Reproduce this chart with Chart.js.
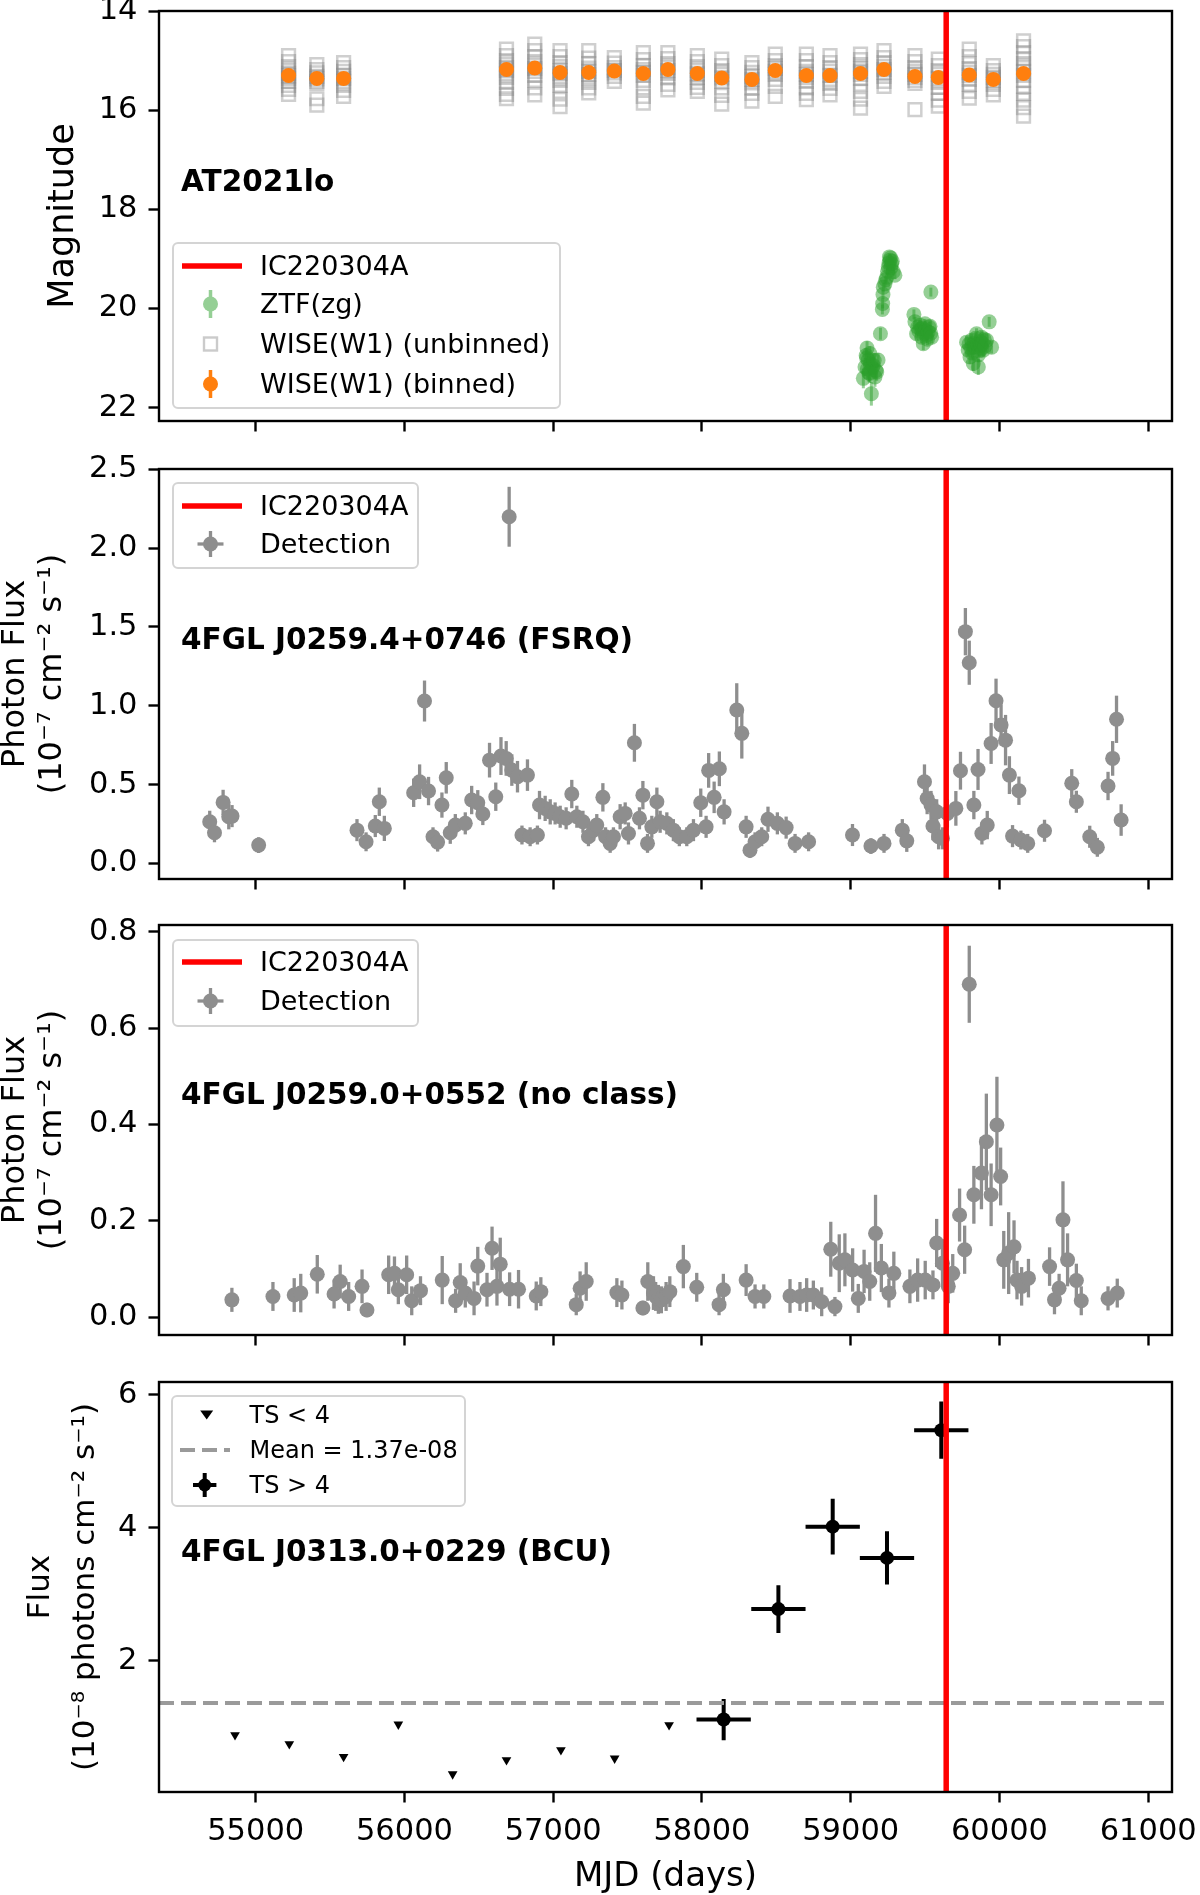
<!DOCTYPE html>
<html>
<head>
<meta charset="utf-8">
<title>AT2021lo / IC220304A light curves</title>
<script src="https://cdn.jsdelivr.net/npm/chart.js@4.4.1/dist/chart.umd.min.js"></script>
<style>
  body { margin: 0; background: #fff; width: 1200px; height: 1895px; position: relative; overflow: hidden; font-family: "DejaVu Sans", sans-serif; }
  canvas { position: absolute; left: 0; }
  .legend { position: absolute; border: 2px solid #d4d4d4; border-radius: 6px; background: rgba(255,255,255,0.8); box-sizing: border-box; }
  .row { position: absolute; left: 0; width: 100%; height: 0; }
  .row svg { position: absolute; left: 0; top: -20px; width: 80px; height: 40px; overflow: visible; }
  .row span { position: absolute; top: 0; transform: translateY(-50%); line-height: 1.2; white-space: nowrap; color: #000; }
  .note { position: absolute; left: 181px; font-weight: bold; font-size: 29.5px; line-height: 1.2; transform: translateY(-50%); white-space: nowrap; color: #000; }
</style>
</head>
<body>
<canvas id="c1" width="1200" height="444" style="top:-9px"></canvas>
<canvas id="c2" width="1200" height="444" style="top:449px"></canvas>
<canvas id="c3" width="1200" height="444" style="top:905px"></canvas>
<canvas id="c4" width="1200" height="533" style="top:1362px"></canvas>

<!-- panel 1 legend + label -->
<div class="legend" style="left:172px;top:242px;width:389px;height:167px;font-size:27px">
  <div class="row" style="top:22px"><svg><line x1="8" y1="20" x2="68" y2="20" stroke="#ff0000" stroke-width="5.5"/></svg><span style="left:86px">IC220304A</span></div>
  <div class="row" style="top:60px"><svg><g opacity="0.5"><line x1="36.5" y1="6" x2="36.5" y2="34" stroke="#2ca02c" stroke-width="3.5"/><circle cx="36.5" cy="20" r="7.5" fill="#2ca02c"/></g></svg><span style="left:86px">ZTF(zg)</span></div>
  <div class="row" style="top:100px"><svg><rect x="30" y="13.5" width="13" height="13" fill="none" stroke="#cbcbcb" stroke-width="2.4"/></svg><span style="left:86px">WISE(W1) (unbinned)</span></div>
  <div class="row" style="top:140px"><svg><line x1="36.5" y1="6" x2="36.5" y2="34" stroke="#ff7f0e" stroke-width="3.5"/><circle cx="36.5" cy="20" r="7.5" fill="#ff7f0e"/></svg><span style="left:86px">WISE(W1) (binned)</span></div>
</div>
<div class="note" style="top:181.7px">AT2021lo</div>

<!-- panel 2 legend + label -->
<div class="legend" style="left:172px;top:482px;width:247px;height:87px;font-size:27px">
  <div class="row" style="top:21.5px"><svg><line x1="8" y1="20" x2="68" y2="20" stroke="#ff0000" stroke-width="5.5"/></svg><span style="left:86px">IC220304A</span></div>
  <div class="row" style="top:60px"><svg><line x1="36.5" y1="7" x2="36.5" y2="33" stroke="#8e8e8e" stroke-width="3.3"/><line x1="23.5" y1="20" x2="49.5" y2="20" stroke="#8e8e8e" stroke-width="3.3"/><circle cx="36.5" cy="20" r="7.5" fill="#8e8e8e"/></svg><span style="left:86px">Detection</span></div>
</div>
<div class="note" style="top:640px">4FGL J0259.4+0746 (FSRQ)</div>

<!-- panel 3 legend + label -->
<div class="legend" style="left:172px;top:939px;width:247px;height:88px;font-size:27px">
  <div class="row" style="top:21px"><svg><line x1="8" y1="20" x2="68" y2="20" stroke="#ff0000" stroke-width="5.5"/></svg><span style="left:86px">IC220304A</span></div>
  <div class="row" style="top:60px"><svg><line x1="36.5" y1="7" x2="36.5" y2="33" stroke="#8e8e8e" stroke-width="3.3"/><line x1="23.5" y1="20" x2="49.5" y2="20" stroke="#8e8e8e" stroke-width="3.3"/><circle cx="36.5" cy="20" r="7.5" fill="#8e8e8e"/></svg><span style="left:86px">Detection</span></div>
</div>
<div class="note" style="top:1095px">4FGL J0259.0+0552 (no class)</div>

<!-- panel 4 legend + label -->
<div class="legend" style="left:171px;top:1395px;width:295px;height:112px;font-size:24px">
  <div class="row" style="top:18px"><svg><path d="M27.2,15.5 L40.2,15.5 L33.7,24.5 Z" fill="#000"/></svg><span style="left:76.5px">TS &lt; 4</span></div>
  <div class="row" style="top:53px"><svg><line x1="7" y1="20" x2="57" y2="20" stroke="#9a9a9a" stroke-width="4" stroke-dasharray="15 7"/></svg><span style="left:76.5px">Mean = 1.37e-08</span></div>
  <div class="row" style="top:88px"><svg><line x1="31.7" y1="8" x2="31.7" y2="32" stroke="#000" stroke-width="4"/><line x1="20" y1="20" x2="43.4" y2="20" stroke="#000" stroke-width="4"/><circle cx="31.7" cy="20" r="6.5" fill="#000"/></svg><span style="left:76.5px">TS &gt; 4</span></div>
</div>
<div class="note" style="top:1551.7px">4FGL J0313.0+0229 (BCU)</div>

<script>
// ---- shared axis values ----
const mjdTicks = [55000, 56000, 57000, 58000, 59000, 60000, 61000];
const mjdRange = [54350, 61160];
const icMJD = 59642;   // IC220304A arrival

// ---- panel 1: optical / IR ----
const magTicks = [14, 16, 18, 20, 22];
const wiseEpochs = [55221, 55411, 55591, 56686, 56876, 57046, 57239, 57411, 57606, 57771, 57969, 58133,
  58336, 58493, 58702, 58861, 59066, 59224, 59432, 59589, 59797, 59959, 60162];
const wiseBinnedMag = [15.30, 15.36, 15.36, 15.18, 15.15, 15.24, 15.24, 15.21, 15.26, 15.18, 15.26, 15.35,
  15.38, 15.20, 15.30, 15.30, 15.26, 15.18, 15.32, 15.34, 15.29, 15.38, 15.26];
const wiseBinnedErr = [0.04, 0.04, 0.04, 0.05, 0.05, 0.05, 0.04, 0.03, 0.05, 0.04, 0.04, 0.05,
  0.04, 0.05, 0.05, 0.04, 0.05, 0.04, 0.05, 0.05, 0.05, 0.04, 0.06];
const wiseUnbinned = [
  [14.90, 15.02, 15.12, 15.20, 15.26, 15.31, 15.36, 15.42, 15.50, 15.58, 15.68],
  [15.08, 15.18, 15.25, 15.32, 15.37, 15.42, 15.46, 15.77, 15.90],
  [15.04, 15.14, 15.22, 15.30, 15.36, 15.42, 15.50, 15.60, 15.72],
  [14.77, 14.90, 15.00, 15.08, 15.14, 15.20, 15.26, 15.34, 15.44, 15.56, 15.68, 15.77],
  [14.67, 14.80, 14.92, 15.02, 15.10, 15.16, 15.22, 15.30, 15.40, 15.55, 15.69],
  [14.80, 14.92, 15.04, 15.12, 15.20, 15.26, 15.32, 15.40, 15.50, 15.62, 15.78, 15.93],
  [14.80, 14.95, 15.06, 15.15, 15.22, 15.28, 15.35, 15.44, 15.55, 15.65],
  [14.94, 15.05, 15.14, 15.20, 15.25, 15.32, 15.42],
  [14.84, 14.98, 15.10, 15.18, 15.24, 15.30, 15.40, 15.55, 15.72, 15.86],
  [14.84, 14.96, 15.06, 15.14, 15.20, 15.26, 15.35, 15.48, 15.59],
  [14.90, 15.02, 15.12, 15.20, 15.27, 15.34, 15.44, 15.54, 15.62],
  [14.97, 15.10, 15.20, 15.28, 15.35, 15.42, 15.55, 15.70, 15.88],
  [15.04, 15.14, 15.24, 15.32, 15.38, 15.45, 15.55, 15.66, 15.82],
  [14.87, 15.00, 15.10, 15.16, 15.22, 15.28, 15.38, 15.52, 15.72],
  [14.87, 15.00, 15.12, 15.22, 15.28, 15.34, 15.42, 15.55, 15.66, 15.79],
  [14.90, 15.04, 15.14, 15.22, 15.30, 15.38, 15.46, 15.56, 15.69],
  [14.87, 14.98, 15.08, 15.16, 15.22, 15.28, 15.36, 15.48, 15.62, 15.78, 15.96],
  [14.80, 14.94, 15.04, 15.12, 15.18, 15.24, 15.32, 15.42, 15.52],
  [14.90, 15.02, 15.14, 15.22, 15.28, 15.34, 15.40, 15.46, 15.99],
  [14.97, 15.10, 15.20, 15.28, 15.36, 15.44, 15.54, 15.66, 15.80, 15.92],
  [14.77, 14.92, 15.06, 15.16, 15.24, 15.30, 15.38, 15.48, 15.62, 15.76],
  [15.10, 15.20, 15.28, 15.34, 15.40, 15.48, 15.58, 15.69],
  [14.60, 14.72, 14.84, 14.96, 15.06, 15.14, 15.22, 15.30, 15.40, 15.52, 15.66, 15.80, 15.95, 16.12]
];
const ztfMJD = [59085, 59096, 59104, 59107, 59110, 59112, 59118, 59122, 59128, 59128, 59133, 59139, 59145,
  59152, 59158, 59163, 59170, 59175, 59184, 59200, 59213, 59215, 59217, 59219, 59230, 59236, 59242, 59248,
  59253, 59258, 59260, 59264, 59268, 59270, 59275, 59280, 59286, 59297, 59425, 59432, 59443, 59450, 59458,
  59466, 59472, 59477, 59482, 59488, 59494, 59499, 59505, 59510, 59516, 59521, 59527, 59533, 59538, 59539,
  59544, 59779, 59790, 59796, 59802, 59808, 59813, 59818, 59824, 59830, 59835, 59840, 59846, 59852, 59858,
  59858, 59864, 59870, 59875, 59880, 59880, 59886, 59891, 59897, 59903, 59914, 59931, 59947];
const ztfMag = [21.41, 21.18, 20.95, 21.00, 20.80, 21.22, 21.04, 21.30, 20.91, 21.31, 21.12, 21.72, 21.20,
  21.15, 21.05, 21.38, 21.25, 21.28, 21.04, 20.51, 20.02, 19.90, 19.72, 19.57, 19.50, 19.42, 19.37, 19.25,
  19.16, 19.08, 18.96, 19.03, 18.98, 19.18, 19.10, 19.05, 19.26, 19.33, 20.12, 20.27, 20.51, 20.38, 20.45,
  20.34, 20.42, 20.58, 20.40, 20.71, 20.50, 20.31, 20.44, 20.54, 20.62, 20.47, 20.38, 20.36, 20.50, 19.67,
  20.58, 20.68, 20.84, 20.72, 20.98, 20.80, 20.64, 20.90, 21.11, 20.70, 20.78, 20.60, 20.51, 20.72, 20.94,
  21.18, 20.85, 20.66, 20.75, 20.58, 20.81, 20.70, 20.84, 20.62, 20.76, 20.64, 20.27, 20.78];
const ztfErr = [0.20, 0.18, 0.15, 0.16, 0.14, 0.20, 0.16, 0.18, 0.15, 0.19, 0.17, 0.24, 0.18,
  0.17, 0.15, 0.20, 0.18, 0.18, 0.14, 0.12, 0.10, 0.10, 0.09, 0.09, 0.08, 0.08, 0.08, 0.08,
  0.07, 0.07, 0.07, 0.07, 0.07, 0.08, 0.07, 0.07, 0.08, 0.08, 0.10, 0.10, 0.12, 0.11, 0.11,
  0.11, 0.11, 0.12, 0.11, 0.13, 0.12, 0.10, 0.11, 0.12, 0.12, 0.11, 0.11, 0.10, 0.11, 0.09,
  0.12, 0.12, 0.13, 0.12, 0.14, 0.13, 0.12, 0.13, 0.15, 0.12, 0.13, 0.12, 0.11, 0.12, 0.14,
  0.16, 0.13, 0.12, 0.12, 0.12, 0.13, 0.12, 0.13, 0.12, 0.12, 0.12, 0.10, 0.13];

// ---- panel 2: 4FGL J0259.4+0746 ----
const fluxTicksA = [0.0, 0.5, 1.0, 1.5, 2.0, 2.5];
const fsrqMJD = [54691, 54723, 54781, 54819, 54841, 55020, 55681, 55742, 55804, 55831, 55865, 56062, 56102,
  56135, 56162, 56192, 56223, 56252, 56281, 56308, 56342, 56409, 56452, 56493, 56527, 56572, 56614, 56649,
  56684, 56704, 56722, 56760, 56790, 56827, 56845, 56894, 56908, 56946, 56980, 57013, 57047, 57087, 57125,
  57159, 57200, 57237, 57271, 57293, 57334, 57352, 57383, 57405, 57450, 57484, 57506, 57546, 57580, 57603,
  57634, 57663, 57697, 57719, 57764, 57808, 57848, 57898, 57943, 57992, 58028, 58045, 58082, 58117, 58149,
  58234, 58268, 58297, 58323, 58357, 58402, 58444, 58507, 58566, 58626, 58717, 59012, 59136, 59224, 59347,
  59377, 59496, 59514, 59540, 59553, 59578, 59591, 59617, 59650, 59707, 59738, 59771, 59797, 59828, 59856,
  59882, 59918, 59944, 59977, 60011, 60041, 60067, 60088, 60131, 60144, 60190, 60303, 60486, 60517, 60607,
  60658, 60730, 60761, 60787, 60818];
const fsrqFlux = [0.264, 0.194, 0.387, 0.296, 0.300, 0.116, 0.211, 0.137, 0.237, 0.391, 0.222, 0.448, 0.518,
  1.030, 0.459, 0.169, 0.135, 0.370, 0.543, 0.194, 0.243, 0.254, 0.402, 0.385, 0.313, 0.655, 0.423, 0.681,
  0.666, 2.199, 0.592, 0.550, 0.180, 0.560, 0.169, 0.180, 0.370, 0.349, 0.327, 0.317, 0.296, 0.286, 0.440,
  0.296, 0.264, 0.169, 0.211, 0.243, 0.419, 0.169, 0.127, 0.169, 0.296, 0.317, 0.190, 0.765, 0.286, 0.433,
  0.127, 0.232, 0.391, 0.264, 0.254, 0.211, 0.169, 0.169, 0.211, 0.385, 0.232, 0.590, 0.419, 0.600, 0.327,
  0.973, 0.825, 0.232, 0.084, 0.137, 0.169, 0.280, 0.254, 0.227, 0.127, 0.137, 0.180, 0.110, 0.127, 0.211,
  0.143, 0.518, 0.412, 0.370, 0.237, 0.327, 0.169, 0.159, 0.317, 0.349, 0.588, 1.470, 1.273, 0.370, 0.596,
  0.190, 0.243, 0.761, 1.032, 0.878, 0.782, 0.560, 0.173, 0.461, 0.148, 0.127, 0.207, 0.508, 0.391, 0.169,
  0.102, 0.491, 0.666, 0.914, 0.275];
const fsrqErr = [0.07, 0.06, 0.08, 0.08, 0.07, 0.05, 0.07, 0.06, 0.07, 0.09, 0.08, 0.09, 0.11,
  0.13, 0.09, 0.06, 0.06, 0.08, 0.10, 0.07, 0.07, 0.07, 0.09, 0.08, 0.07, 0.11, 0.09, 0.12,
  0.11, 0.19, 0.10, 0.10, 0.06, 0.10, 0.06, 0.06, 0.09, 0.08, 0.08, 0.07, 0.07, 0.07, 0.09,
  0.07, 0.07, 0.06, 0.07, 0.07, 0.09, 0.06, 0.06, 0.06, 0.08, 0.07, 0.07, 0.12, 0.07, 0.09,
  0.06, 0.07, 0.09, 0.07, 0.07, 0.07, 0.06, 0.06, 0.07, 0.09, 0.07, 0.11, 0.10, 0.11, 0.08,
  0.17, 0.16, 0.07, 0.05, 0.06, 0.06, 0.08, 0.07, 0.07, 0.06, 0.06, 0.07, 0.05, 0.06, 0.07,
  0.07, 0.11, 0.10, 0.09, 0.09, 0.08, 0.08, 0.07, 0.09, 0.11, 0.12, 0.15, 0.14, 0.09, 0.13,
  0.07, 0.09, 0.13, 0.14, 0.13, 0.16, 0.12, 0.07, 0.09, 0.06, 0.06, 0.07, 0.09, 0.07, 0.07,
  0.06, 0.09, 0.11, 0.15, 0.10];

// ---- panel 3: 4FGL J0259.0+0552 ----
const fluxTicksB = [0.0, 0.2, 0.4, 0.6, 0.8];
const ncMJD = [54840, 55116, 55259, 55303, 55414, 55527, 55568, 55625, 55715, 55748, 55894, 55933, 55959,
  56015, 56049, 56108, 56254, 56344, 56375, 56409, 56468, 56493, 56555, 56589, 56622, 56644, 56707, 56767,
  56886, 56917, 57155, 57181, 57222, 57428, 57462, 57603, 57636, 57674, 57689, 57707, 57727, 57759, 57784,
  57875, 57965, 58115, 58144, 58297, 58357, 58416, 58592, 58659, 58704, 58749, 58805, 58866, 58894, 58923,
  58961, 59013, 59051, 59090, 59128, 59167, 59206, 59257, 59290, 59398, 59450, 59501, 59553, 59578, 59617,
  59656, 59686, 59732, 59766, 59797, 59828, 59879, 59912, 59944, 59983, 60008, 60029, 60062, 60098, 60118,
  60149, 60195, 60337, 60370, 60401, 60427, 60458, 60517, 60550, 60730, 60792];
const ncFlux = [0.036, 0.043, 0.046, 0.050, 0.089, 0.048, 0.074, 0.043, 0.064, 0.015, 0.088, 0.091, 0.057,
  0.088, 0.034, 0.055, 0.077, 0.034, 0.072, 0.050, 0.039, 0.106, 0.057, 0.143, 0.064, 0.110, 0.058, 0.058,
  0.044, 0.053, 0.026, 0.060, 0.074, 0.051, 0.046, 0.019, 0.074, 0.050, 0.043, 0.037, 0.036, 0.043, 0.053,
  0.105, 0.062, 0.026, 0.057, 0.077, 0.043, 0.043, 0.044, 0.043, 0.046, 0.046, 0.032, 0.141, 0.022, 0.112,
  0.119, 0.098, 0.039, 0.095, 0.074, 0.174, 0.102, 0.050, 0.091, 0.064, 0.077, 0.077, 0.067, 0.154, 0.112,
  0.064, 0.091, 0.212, 0.140, 0.691, 0.254, 0.299, 0.364, 0.254, 0.399, 0.292, 0.119, 0.133, 0.146, 0.077,
  0.064, 0.081, 0.105, 0.036, 0.060, 0.202, 0.119, 0.076, 0.034, 0.039, 0.050];
const ncErr = [0.025, 0.030, 0.035, 0.040, 0.040, 0.030, 0.035, 0.030, 0.035, 0.015, 0.040, 0.035, 0.030,
  0.040, 0.030, 0.030, 0.050, 0.025, 0.040, 0.030, 0.035, 0.040, 0.035, 0.045, 0.040, 0.055, 0.035, 0.040,
  0.030, 0.030, 0.022, 0.035, 0.040, 0.030, 0.030, 0.015, 0.040, 0.035, 0.030, 0.030, 0.028, 0.030, 0.032,
  0.045, 0.030, 0.022, 0.033, 0.033, 0.025, 0.025, 0.035, 0.030, 0.035, 0.030, 0.030, 0.057, 0.020, 0.060,
  0.055, 0.045, 0.030, 0.045, 0.040, 0.080, 0.050, 0.030, 0.045, 0.035, 0.045, 0.040, 0.030, 0.050, 0.050,
  0.035, 0.040, 0.055, 0.050, 0.080, 0.060, 0.075, 0.100, 0.065, 0.100, 0.060, 0.060, 0.085, 0.055, 0.040,
  0.040, 0.040, 0.040, 0.030, 0.030, 0.080, 0.055, 0.035, 0.030, 0.025, 0.030];

// ---- panel 4: 4FGL J0313.0+0229 yearly bins ----
const fluxTicksC = [2, 4, 6];
const ulMJD = [54861, 55226, 55591, 55959, 56324, 56686, 57052, 57413, 57779];
const ulFlux = [0.887, 0.752, 0.561, 1.048, 0.300, 0.511, 0.662, 0.537, 1.038];
const detMJD = [58146, 58514, 58879, 59244, 59609];
const detFlux = [1.12, 2.78, 4.02, 3.55, 5.47];
const detErr = [0.31, 0.36, 0.42, 0.40, 0.43];
const detHalfBin = [182.5, 182.5, 182.5, 182.5, 182.5];
const meanFlux = 1.37;

// ---------------------------------------------------------
Chart.defaults.font.family = "'DejaVu Sans', sans-serif";
Chart.defaults.color = '#000';

const pts = (xs, ys) => xs.map((x, i) => ({x, y: ys[i]}));

// draws x/y error bars under the markers
const errorBars = {
  id: 'errorBars',
  beforeDatasetsDraw(chart) {
    const {ctx, chartArea: a, scales: {x, y}} = chart;
    ctx.save();
    ctx.beginPath();
    ctx.rect(a.left, a.top, a.width, a.height);
    ctx.clip();
    chart.data.datasets.forEach(ds => {
      if (!ds.yErr && !ds.xErr) return;
      ctx.strokeStyle = ds.errColor;
      ctx.lineWidth = ds.errWidth;
      ds.data.forEach((p, i) => {
        const px = x.getPixelForValue(p.x);
        const py = y.getPixelForValue(p.y);
        ctx.beginPath();
        if (ds.yErr) {
          ctx.moveTo(px, y.getPixelForValue(p.y - ds.yErr[i]));
          ctx.lineTo(px, y.getPixelForValue(p.y + ds.yErr[i]));
        }
        if (ds.xErr) {
          ctx.moveTo(x.getPixelForValue(p.x - ds.xErr[i]), py);
          ctx.lineTo(x.getPixelForValue(p.x + ds.xErr[i]), py);
        }
        ctx.stroke();
      });
    });
    ctx.restore();
  }
};

// axes box on all four sides
const frame = {
  id: 'frame',
  afterDatasetsDraw(chart) {
    const {ctx, chartArea: a} = chart;
    ctx.save();
    ctx.strokeStyle = '#000';
    ctx.lineWidth = 2.4;
    ctx.strokeRect(a.left, a.top, a.width, a.height);
    ctx.restore();
  }
};

const tickGrid = {drawOnChartArea: false, tickLength: 10.5, tickWidth: 2.4, tickColor: '#000'};

function xAxis(showLabels, height) {
  return {
    type: 'linear', min: mjdRange[0], max: mjdRange[1],
    afterBuildTicks: s => { s.ticks = mjdTicks.map(v => ({value: v})); },
    afterFit: s => { s.height = height; s.paddingLeft = 0; s.paddingRight = 0; },
    ticks: {display: showLabels, autoSkip: false, maxRotation: 0, font: {size: 30.5}, color: '#000', padding: 11,
      callback: v => String(v)},
    grid: tickGrid,
    border: {display: false},
    title: {display: showLabels, text: 'MJD (days)', color: '#000', font: {size: 34}, padding: {top: 0, bottom: -3}}
  };
}

function yAxis(o) {
  return {
    type: 'linear', min: o.min, max: o.max, reverse: !!o.reverse,
    afterBuildTicks: s => { s.ticks = o.ticks.map(v => ({value: v})); },
    afterFit: s => { s.width = 159; s.paddingTop = 0; s.paddingBottom = 0; },
    ticks: {font: {size: 30.5}, color: '#000', padding: 11, callback: o.fmt},
    grid: tickGrid,
    border: {display: false},
    title: {display: true, text: o.title, color: '#000', font: {size: o.titleSize, lineHeight: o.lh},
      padding: {top: o.tpad, bottom: 0}}
  };
}

function icLine(yMin, yMax) {
  return {data: [{x: icMJD, y: yMin}, {x: icMJD, y: yMax}], showLine: true, borderColor: '#ff0000',
    borderWidth: 5.5, pointRadius: 0, order: 0};
}

function baseOptions(scales, padBottom) {
  return {
    responsive: false, animation: false, devicePixelRatio: 1, events: [],
    layout: {padding: {left: 0, right: 28, top: 20, bottom: padBottom}},
    plugins: {legend: {display: false}, tooltip: {enabled: false}},
    scales
  };
}

// ---- panel 1 ----
const p1Range = [14, 22.27];
new Chart(document.getElementById('c1'), {
  type: 'scatter',
  data: {datasets: [
    icLine(p1Range[0], p1Range[1]),
    {data: pts(wiseEpochs, wiseBinnedMag), yErr: wiseBinnedErr, errColor: '#ff7f0e', errWidth: 3.5,
      pointStyle: 'circle', pointRadius: 7.5, pointBackgroundColor: '#ff7f0e', pointBorderColor: '#ff7f0e',
      pointBorderWidth: 0, order: 2},
    {data: wiseEpochs.flatMap((x, i) => wiseUnbinned[i].map(y => ({x, y}))),
      pointStyle: 'rect', pointRadius: 9, pointBackgroundColor: 'rgba(0,0,0,0)',
      pointBorderColor: 'rgba(128,128,128,0.38)', pointBorderWidth: 2.5, order: 3},
    {data: pts(ztfMJD, ztfMag), yErr: ztfErr, errColor: 'rgba(44,160,44,0.5)', errWidth: 3,
      pointStyle: 'circle', pointRadius: 7.5, pointBackgroundColor: 'rgba(44,160,44,0.5)',
      pointBorderColor: 'rgba(44,160,44,0.5)', pointBorderWidth: 0, order: 4}
  ]},
  options: baseOptions({
    x: xAxis(false, 14),
    y: yAxis({min: p1Range[0], max: p1Range[1], reverse: true, ticks: magTicks, fmt: v => String(v),
      title: 'Magnitude', titleSize: 35, lh: 1.2, tpad: 43})
  }, 0),
  plugins: [errorBars, frame]
});

// ---- panels 2 & 3 ----
function fermiPanel(id, range, ticks, xs, ys, es) {
  new Chart(document.getElementById(id), {
    type: 'scatter',
    data: {datasets: [
      icLine(range[0], range[1]),
      {data: pts(xs, ys), yErr: es, errColor: '#8e8e8e', errWidth: 3.3, pointStyle: 'circle', pointRadius: 7.5,
        pointBackgroundColor: '#8e8e8e', pointBorderColor: '#8e8e8e', pointBorderWidth: 0, order: 2}
    ]},
    options: baseOptions({
      x: xAxis(false, 14),
      y: yAxis({min: range[0], max: range[1], ticks, fmt: v => v.toFixed(1),
        title: ['Photon Flux', '(10\u207b\u2077 cm\u207b\u00b2 s\u207b\u00b9)'], titleSize: 32, lh: 1.16, tpad: -3})
    }, 0),
    plugins: [errorBars, frame]
  });
}
fermiPanel('c2', [-0.099, 2.502], fluxTicksA, fsrqMJD, fsrqFlux, fsrqErr);
fermiPanel('c3', [-0.037, 0.814], fluxTicksB, ncMJD, ncFlux, ncErr);

// ---- panel 4 ----
const p4Range = [0.03, 6.195];
new Chart(document.getElementById('c4'), {
  type: 'scatter',
  data: {datasets: [
    icLine(p4Range[0], p4Range[1]),
    {data: [{x: mjdRange[0], y: meanFlux}, {x: mjdRange[1], y: meanFlux}], showLine: true,
      borderColor: '#9a9a9a', borderWidth: 4, borderDash: [15, 7], pointRadius: 0, order: 3},
    {data: pts(ulMJD, ulFlux), pointStyle: 'triangle', rotation: 180, pointRadius: 5.6,
      pointBackgroundColor: '#000', pointBorderColor: '#000', pointBorderWidth: 0, order: 2},
    {data: pts(detMJD, detFlux), yErr: detErr, xErr: detHalfBin, errColor: '#000', errWidth: 4,
      pointStyle: 'circle', pointRadius: 7, pointBackgroundColor: '#000', pointBorderColor: '#000',
      pointBorderWidth: 0, order: 1}
  ]},
  options: baseOptions({
    x: xAxis(true, 103),
    y: yAxis({min: p4Range[0], max: p4Range[1], ticks: fluxTicksC, fmt: v => String(v),
      title: ['Flux', '(10\u207b\u2078 photons cm\u207b\u00b2 s\u207b\u00b9)'], titleSize: 31, lh: 1.45, tpad: 18.5})
  }, 0),
  plugins: [errorBars, frame]
});
</script>
</body>
</html>
